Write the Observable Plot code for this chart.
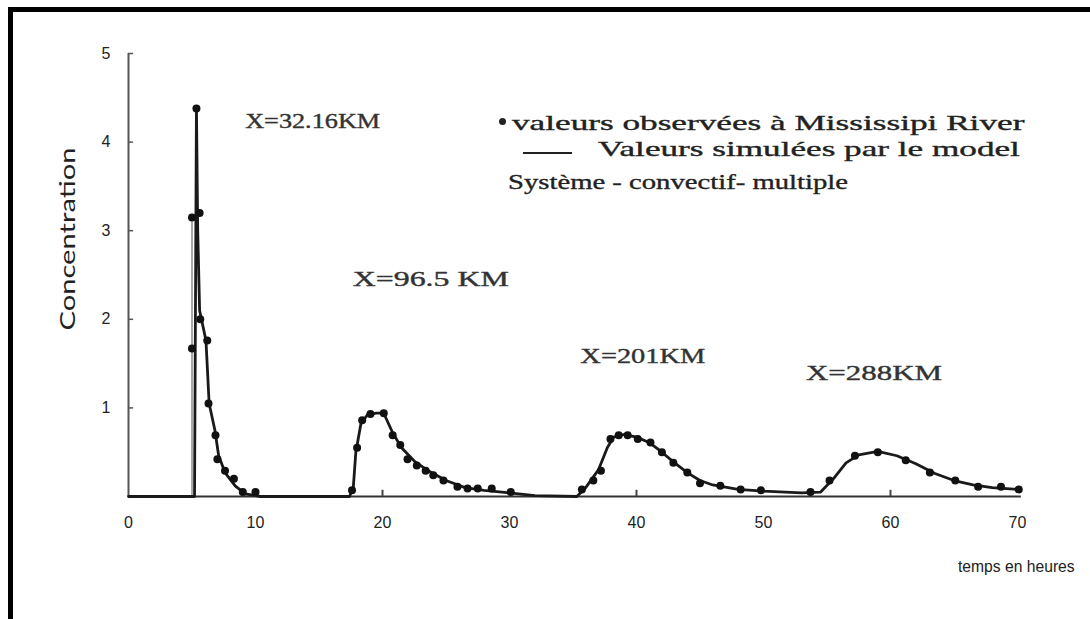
<!DOCTYPE html>
<html>
<head>
<meta charset="utf-8">
<script src="https://cdn.jsdelivr.net/npm/d3@7"></script>
<script src="https://cdn.jsdelivr.net/npm/@observablehq/plot@0.6"></script>
<style>
  html, body { margin: 0; padding: 0; background: #fff; }
  #wrap { position: relative; width: 1090px; height: 619px; overflow: hidden; background: #fff; }
  #frame { position: absolute; left: 8px; top: 7px; width: 1200px; height: 700px;
           border-left: 5px solid #000; border-top: 5px solid #000; }
  #chart { position: absolute; left: 0; top: 0; }
  .fit { position: absolute; white-space: nowrap; transform-origin: 0 50%; color: #222; }
  .serif { font-family: "Liberation Serif", "Times New Roman", serif; -webkit-text-stroke: 0.35px #222; }
  .sans { font-family: "Liberation Sans", Arial, sans-serif; }
</style>
</head>
<body>
<div id="wrap">
  <div id="frame"></div>
  <div id="chart"></div>
</div>
<script>
// ---- Data ----
const xTicks = [0, 10, 20, 30, 40, 50, 60, 70];
const yTicks = [1, 2, 3, 4, 5];
const xTickMarks = [20, 40, 60];

// observed values (dots)
const obsX = [5.35, 5.6, 5.0, 5.65, 6.2, 5.0, 6.3, 6.85, 7.0, 7.6, 8.3, 9.0, 10.0,
  17.6, 18.0, 18.4, 19.05, 20.1, 20.8, 21.4, 21.97, 22.7, 23.4, 24.0, 24.8, 25.9, 26.7, 27.5, 28.6, 30.1,
  35.7, 36.6, 37.2, 37.95, 38.6, 39.3, 40.1, 41.1, 42.0, 42.9, 44.0, 45.0, 46.6, 48.2, 49.8,
  53.7, 55.2, 57.2, 59.0, 61.2, 63.1, 65.1, 66.9, 68.7, 70.1];
const obsY = [4.38, 3.2, 3.15, 2.0, 1.76, 1.67, 1.05, 0.69, 0.42, 0.29, 0.2, 0.05, 0.05,
  0.07, 0.55, 0.86, 0.93, 0.94, 0.69, 0.58, 0.42, 0.35, 0.29, 0.24, 0.18, 0.11, 0.09, 0.09, 0.09, 0.05,
  0.08, 0.18, 0.29, 0.65, 0.69, 0.69, 0.65, 0.61, 0.5, 0.38, 0.27, 0.15, 0.12, 0.08, 0.07,
  0.05, 0.18, 0.46, 0.5, 0.41, 0.27, 0.18, 0.11, 0.11, 0.08];

// simulated values (line)
const simX = [0, 5.2, 5.35, 5.45, 5.6, 6.1, 6.35, 6.8, 7.1, 7.6, 8.4, 9.2, 10.4,
  17.4, 17.7, 17.9, 18.3, 18.8, 19.5, 20.1, 20.8, 21.5, 22.5, 23.5, 25.0, 26.5, 28.0, 30.0, 32.0,
  35.3, 36.0, 37.0, 37.7, 38.2, 39.0, 40.0, 41.0, 42.0, 43.0, 44.0, 45.0, 46.0, 48.0, 50.0, 53.0, 54.5,
  55.5, 56.5, 57.5, 59.0, 60.5, 62.0, 63.5, 65.0, 66.5, 68.0, 70.0];
const simY = [0, 0, 4.38, 3.0, 2.1, 1.76, 1.05, 0.75, 0.46, 0.27, 0.12, 0.03, 0,
  0, 0.1, 0.5, 0.82, 0.92, 0.94, 0.94, 0.72, 0.55, 0.4, 0.3, 0.18, 0.1, 0.07, 0.04, 0.01,
  0, 0.1, 0.3, 0.55, 0.67, 0.7, 0.67, 0.61, 0.5, 0.38, 0.27, 0.18, 0.13, 0.08, 0.06, 0.04, 0.05,
  0.2, 0.38, 0.47, 0.51, 0.46, 0.37, 0.26, 0.18, 0.13, 0.1, 0.08];

// injection marker (thin vertical line)
const injectionX = [5.0];
const injectionTop = 3.1;

// annotations
const annText = ["X=32.16KM", "X=96.5 KM", "X=201KM", "X=288KM"];
const annX = [14.5, 23.8, 40.5, 58.7];
const annY = [4.24, 2.46, 1.59, 1.39];
const annWidth = [135, 156, 125, 136];

// legend / titles
const legendObserved = "valeurs observées à Mississipi River";
const legendSimulated = "Valeurs simulées par le model";
const legendSystem = "Système - convectif- multiple";
const yTitle = "Concentration";
const xTitle = "temps en heures";

// ---- Build ----
const obs = obsX.map((x, i) => ({x, y: obsY[i]}));
const sim = simX.map((x, i) => ({x, y: simY[i]}));
const ann = annText.map((t, i) => ({text: t, x: annX[i], y: annY[i], w: annWidth[i]}));

const chart = Plot.plot({
  width: 1090, height: 619,
  marginTop: 53, marginBottom: 123, marginLeft: 128, marginRight: 73,
  style: {background: "transparent", fontFamily: "Liberation Sans, Arial, sans-serif", fontSize: "16px", color: "#222"},
  x: {domain: [0, 70], ticks: xTicks, tickSize: 0, tickPadding: 20, label: null, tickFormat: d => String(d)},
  y: {domain: [0, 5], ticks: yTicks, tickSize: 0, tickPadding: 18, label: null, tickFormat: d => String(d)},
  marks: [
    Plot.ruleX([0], {y1: 0, y2: 5, stroke: "#555", strokeWidth: 2}),
    Plot.ruleY([0], {x1: 0, x2: 70.3, stroke: "#333", strokeWidth: 2.2}),
    Plot.ruleX(xTickMarks, {y1: 0, y2: 0.07, stroke: "#444", strokeWidth: 2}),
    Plot.ruleY(yTicks, {x1: 0, x2: 0.4, stroke: "#555", strokeWidth: 1.5}),
    Plot.ruleX(injectionX, {y1: 0, y2: injectionTop, stroke: "#555", strokeWidth: 1}),
    Plot.line(sim, {x: "x", y: "y", stroke: "#1a1a1a", strokeWidth: 2.8}),
    Plot.dot(obs, {x: "x", y: "y", r: 4, fill: "#111", stroke: "none"}),
    Plot.text(ann, {x: "x", y: "y", text: "text", fontFamily: "Liberation Serif, Times New Roman, serif",
      fontSize: 22, fill: "#333", stroke: "#333", strokeWidth: 0.4})
  ]
});
document.getElementById("chart").appendChild(chart);

// stretch annotation text to the widths in the reference
d3.select(chart).selectAll("g[aria-label='text'] text").each(function() {
  const idx = annText.indexOf(this.textContent);
  if (idx >= 0) {
    this.setAttribute("textLength", annWidth[idx]);
    this.setAttribute("lengthAdjust", "spacingAndGlyphs");
  }
});

// ---- HTML texts (legend + titles) ----
const wrap = document.getElementById("wrap");
function addText(txt, cls, left, cy, width, size, rotate) {
  const s = document.createElement("span");
  s.className = "fit " + cls;
  s.textContent = txt;
  s.style.fontSize = size + "px";
  s.style.lineHeight = size + "px";
  wrap.appendChild(s);
  const nat = s.offsetWidth;
  const k = width / nat;
  if (rotate) {
    s.style.left = left + "px";
    s.style.top = cy + "px";
    s.style.transformOrigin = "50% 50%";
    s.style.transform = `translate(-50%,-50%) rotate(-90deg) scaleX(${k})`;
  } else {
    s.style.left = left + "px";
    s.style.top = (cy - size / 2) + "px";
    s.style.transform = `scaleX(${k})`;
  }
  return s;
}
function addBox(left, top, w, h, radius) {
  const b = document.createElement("div");
  b.style.position = "absolute";
  b.style.left = left + "px"; b.style.top = top + "px";
  b.style.width = w + "px"; b.style.height = h + "px";
  b.style.background = "#222";
  if (radius) b.style.borderRadius = "50%";
  wrap.appendChild(b);
}
// legend
addBox(499, 118, 7, 7, true);
addText(legendObserved, "serif", 512, 123, 513, 21);
addBox(523, 152, 49, 2);
addText(legendSimulated, "serif", 598, 149, 422, 21);
addText(legendSystem, "serif", 508, 182, 340, 21);
// axis titles
addText(yTitle, "sans", 66, 239, 182, 21, true).style.fontFamily = "Lato, 'Liberation Sans', sans-serif";
addText(xTitle, "sans", 958, 566, 117, 17);
</script>
</body>
</html>
